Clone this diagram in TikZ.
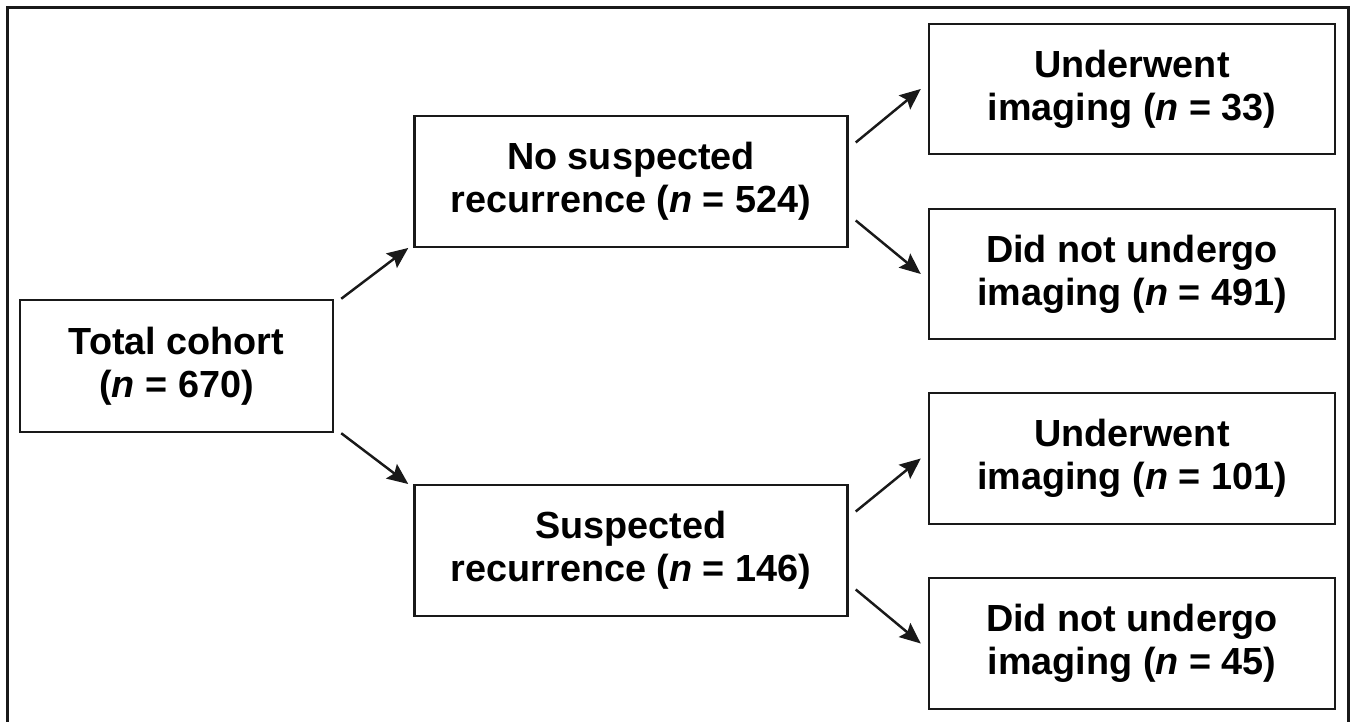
\documentclass[tikz,border=0pt]{standalone}
\usepackage{fontspec}
\setmainfont{Liberation Sans}
\usetikzlibrary{arrows.meta,calc}
\begin{document}
\begin{tikzpicture}
            \tikzstyle{box}=[draw=black!90, line width=1.4pt, align=center, inner sep=0pt, minimum height=2.61cm, font=\fontsize{21.5}{24.5}\selectfont\bfseries]
            \tikzstyle{arrow}=[draw=black!90, line width=1.4pt, -{Stealth[length=0.42cm, width=0.36cm, inset=0.07cm]}]
            \useasboundingbox (0, 0) rectangle (27.14, 14.44);
            \draw [black!90, line width=1.4pt] (0.15, 0) -- (0.15, 14.29) -- (26.97, 14.29) -- (26.97, 0);
            \node [box, minimum width=6.26cm, minimum height=2.64cm] (total) at (3.53, 7.12) {Total cohort\\(\textit{n} = 670)};
            \node [box, minimum width=8.66cm] (nosusp) at (12.62, 10.81) {No suspected\\recurrence (\textit{n} = 524)};
            \node [box, minimum width=8.66cm] (susp) at (12.62, 3.43) {Suspected\\recurrence (\textit{n} = 146)};
            \node [box, minimum width=8.12cm] (imgnosusp) at (22.64, 12.66) {Underwent\\imaging (\textit{n} = 33)};
            \node [box, minimum width=8.12cm] (noimgnosusp) at (22.64, 8.96) {Did not undergo\\imaging (\textit{n} = 491)};
            \node [box, minimum width=8.12cm] (imgsusp) at (22.64, 5.27) {Underwent\\imaging (\textit{n} = 101)};
            \node [box, minimum width=8.12cm] (noimgsusp) at (22.64, 1.57) {Did not undergo\\imaging (\textit{n} = 45)};
            \draw [arrow] ($(total.north east)+(0.14, 0)$) -- ($(nosusp.south west)+(-0.1, 0)$);
            \draw [arrow] ($(total.south east)+(0.14, 0)$) -- ($(susp.north west)+(-0.1, 0)$);
            \draw [arrow] ($(nosusp.east)+(0.14, 0.78)$) -- ($(imgnosusp.west)+(-0.14, 0)$);
            \draw [arrow] ($(nosusp.east)+(0.14, -0.78)$) -- ($(noimgnosusp.west)+(-0.14, 0)$);
            \draw [arrow] ($(susp.east)+(0.14, 0.78)$) -- ($(imgsusp.west)+(-0.14, 0)$);
            \draw [arrow] ($(susp.east)+(0.14, -0.78)$) -- ($(noimgsusp.west)+(-0.14, 0)$);
        \end{tikzpicture}
\end{document}
